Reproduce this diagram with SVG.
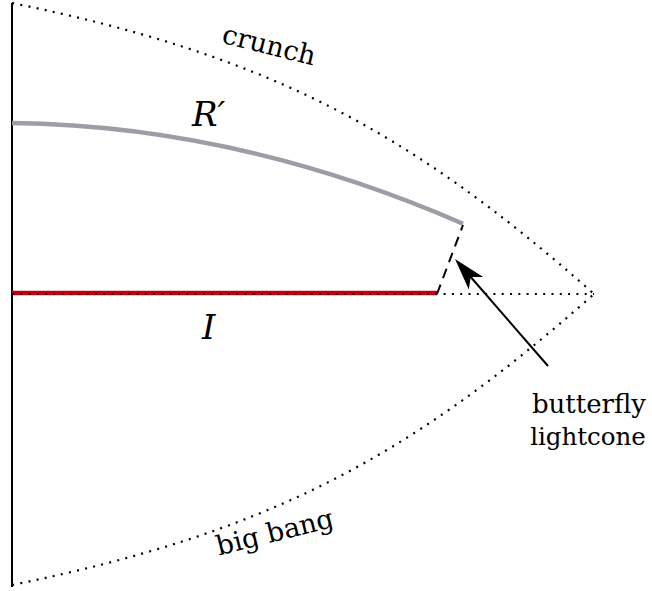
<svg xmlns="http://www.w3.org/2000/svg" width="652" height="591" viewBox="0 0 652 591">
<style>
.dot{fill:none;stroke:#000;stroke-width:2.2;stroke-dasharray:2 6.3}
.lbl{font-family:"DejaVu Serif","Liberation Serif","Noto Serif","Times New Roman",Times,serif;font-size:27px;fill:#000}
.math{font-family:"DejaVu Serif","Liberation Serif","Noto Serif","Times New Roman",Times,serif;font-style:italic;font-size:34px;fill:#000}
</style>
<rect width="652" height="591" fill="#fff"/>
<g id="axis">
<line x1="12" y1="3" x2="12" y2="587" stroke="#000" stroke-width="2"/>
</g>
<g id="I">
<line x1="12" y1="293" x2="437" y2="293" stroke="#c00010" stroke-width="4.5"/>
<text class="math" x="202" y="339">I</text>
</g>
<g id="R">
<path d="M12,123 Q237.5,125.5 463,223.7" fill="none" stroke="#9d9da6" stroke-width="4.5"/>
<text class="math" x="192" y="126">R′</text>
</g>
<g id="crunch">
<path class="dot" d="M12,3 C261.5,54.1 403.5,124.9 594,294"/>
<text class="lbl" x="267" y="54" text-anchor="middle" transform="rotate(14 267 54)">crunch</text>
</g>
<g id="bigbang">
<path class="dot" d="M12,585 C261.5,533.9 403.5,463.1 594,294"/>
<text class="lbl" x="277" y="541" text-anchor="middle" transform="rotate(-14 277 541)">big bang</text>
</g>
<g id="connectors">
<line class="dot" x1="12" y1="294" x2="594" y2="294"/>
<line x1="437" y1="294" x2="463" y2="225" stroke="#000" stroke-width="2" stroke-dasharray="10 7"/>
<line x1="469" y1="275" x2="548" y2="366" stroke="#000" stroke-width="2"/>
<polygon points="455,259 483.2,277 470.7,277.1 468.8,289.4" fill="#000"/>
</g>
<g id="label">
<text class="lbl" x="589" y="413" text-anchor="middle" style="font-size:26px">butterfly</text>
<text class="lbl" x="588" y="445" text-anchor="middle" style="font-size:24.5px">lightcone</text>
</g>
</svg>
